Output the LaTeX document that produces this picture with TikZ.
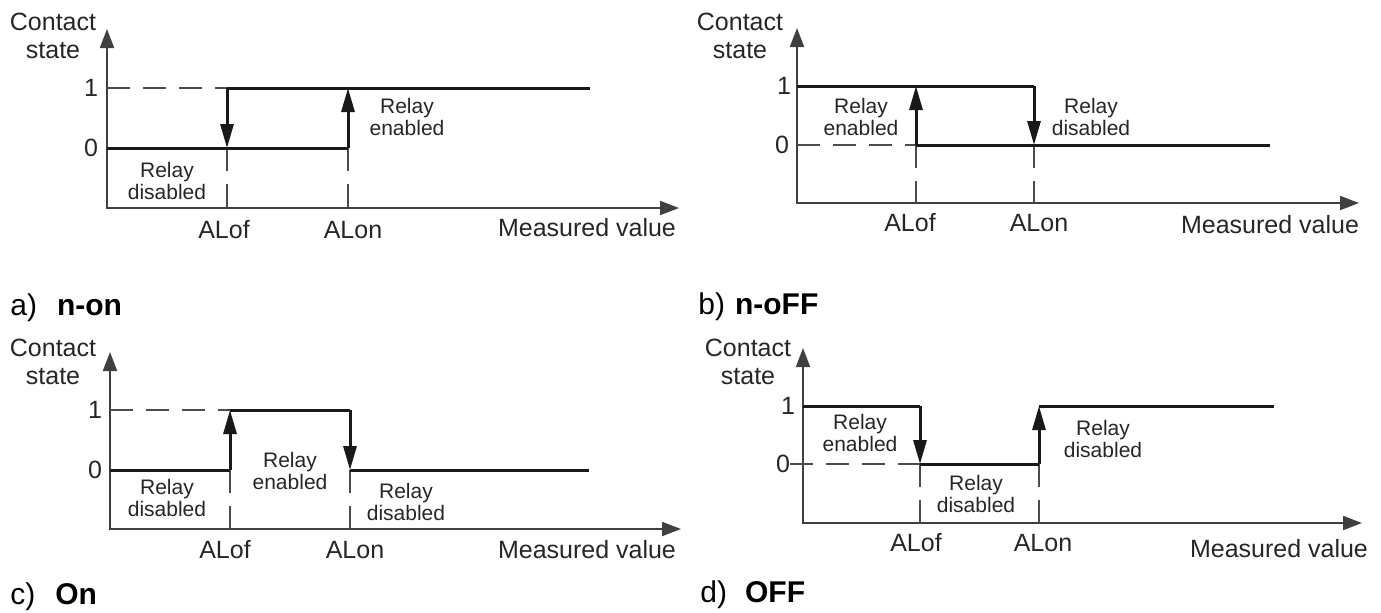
\documentclass[tikz,border=0pt]{standalone}
\usepackage{fontspec}
\setmainfont{Liberation Sans}
\usetikzlibrary{arrows.meta}

\tikzset{
  axisline/.style={line width=1pt, draw=black!75, {Triangle[length=9.5pt,width=7pt]}-{Triangle[length=9.5pt,width=7pt]}},
  level/.style={line width=1.5pt, draw=black!90},
  jump/.style={level, -{Triangle[length=12pt,width=6.5pt]}},
  guide/.style={line width=0.9pt, draw=black!70, dash pattern=on 11.5pt off 6.5pt},
  lbl/.style={font=\fontsize{12.5}{14}\selectfont, text=black!85, inner sep=0pt, align=center},
  relay/.style={font=\fontsize{10.5}{11}\selectfont, text=black!85, inner sep=0pt, align=center},
  caption/.style={font=\fontsize{15}{17}\selectfont, text=black, inner sep=0pt, anchor=west}
}

\begin{document}
\begin{tikzpicture}[x=0.5pt, y=-0.5pt]
\useasboundingbox (0,0) rectangle (1381,612);

% a) n-on
\foreach \n/\x/\y in {o/107/208, y/107/29, x/679/208, 1/107/88, 0/107/148, f1/227/88, f0/227/148, fx/227/208, n1/348/88, n0/348/148, nx/348/208, e/590/88} {
    \coordinate (a\n) at (\x,\y);
}
\draw[axisline] (ay) -- (ao) -- (ax);
\draw[guide] (a1) -- (af1);
\draw[guide] (af0) -- (afx);
\draw[guide] (an0) -- (anx);
\draw[level] (a0) -- (an0);
\draw[level] (af1) -- (ae);
\draw[jump] (af1) -- (af0);
\draw[jump] (an0) -- (an1);

\node[lbl] (aylbl) at (53,36) {Contact\\state};
\node[lbl] (a1lbl) at (91,88) {1};
\node[lbl] (a0lbl) at (91,148) {0};
\node[lbl] (aflbl) at (224,230) {ALof};
\node[lbl] (anlbl) at (353,230) {ALon};
\node[lbl] (axlbl) at (587,228) {Measured value};
\node[relay] (aon) at (407,117) {Relay\\enabled};
\node[relay] (aoff) at (167,181) {Relay\\disabled};
\node[caption] (acap) at (10,308) {a)\hspace{10pt}\textbf{n-on}};

% b) n-oFF
\foreach \n/\x/\y in {o/797/203, y/797/28, x/1359/203, 1/797/86, 0/797/145, f1/916/86, f0/916/145, fx/916/203, n1/1034/86, n0/1034/145, nx/1034/203, e/1270/145} {
    \coordinate (b\n) at (\x,\y);
}
\draw[axisline] (by) -- (bo) -- (bx);
\draw[guide] (b0) -- (bf0);
\draw[guide] (bf0) -- (bfx);
\draw[guide] (bn0) -- (bnx);
\draw[level] (b1) -- (bn1);
\draw[level] (bf0) -- (be);
\draw[jump] (bf0) -- (bf1);
\draw[jump] (bn1) -- (bn0);

\node[lbl] (bylbl) at (740,36) {Contact\\state};
\node[lbl] (b1lbl) at (784,86) {1};
\node[lbl] (b0lbl) at (782,145) {0};
\node[lbl] (bflbl) at (910,223) {ALof};
\node[lbl] (bnlbl) at (1039,223) {ALon};
\node[lbl] (bxlbl) at (1270,225) {Measured value};
\node[relay] (bon) at (861,117) {Relay\\enabled};
\node[relay] (boff) at (1091,117) {Relay\\disabled};
\node[caption] (bcap) at (698,307) {b)\hspace{5pt}\textbf{n-oFF}};

% c) On
\foreach \n/\x/\y in {o/110/529, y/110/352, x/681/529, 1/110/410, 0/110/470, f1/230/410, f0/230/470, fx/230/529, n1/350/410, n0/350/470, nx/350/529, e/589/470} {
    \coordinate (c\n) at (\x,\y);
}
\draw[axisline] (cy) -- (co) -- (cx);
\draw[guide] (c1) -- (cf1);
\draw[guide] (cf0) -- (cfx);
\draw[guide] (cn0) -- (cnx);
\draw[level] (c0) -- (cf0);
\draw[level] (cf1) -- (cn1);
\draw[level] (cn0) -- (ce);
\draw[jump] (cf0) -- (cf1);
\draw[jump] (cn1) -- (cn0);

\node[lbl] (cylbl) at (53,362) {Contact\\state};
\node[lbl] (c1lbl) at (95,410) {1};
\node[lbl] (c0lbl) at (95,470) {0};
\node[lbl] (cflbl) at (225,550) {ALof};
\node[lbl] (cnlbl) at (355,550) {ALon};
\node[lbl] (cxlbl) at (587,550) {Measured value};
\node[relay] (coff) at (167,498) {Relay\\disabled};
\node[relay] (con) at (290,471) {Relay\\enabled};
\node[relay] (coff2) at (406,502) {Relay\\disabled};
\node[caption] (ccap) at (10,597) {c)\hspace{10pt}\textbf{On}};

% d) OFF
\foreach \n/\x/\y in {o/803/523, y/803/348, x/1362/523, 1/803/406, 0/803/464, s/790/464, f1/920/406, f0/920/464, fx/920/523, n1/1039/406, n0/1039/464, nx/1039/523, e/1274/406} {
    \coordinate (d\n) at (\x,\y);
}
\draw[axisline] (dy) -- (do) -- (dx);
\draw[guide] (ds) -- (df0);
\draw[guide] (df0) -- (dfx);
\draw[guide] (dn0) -- (dnx);
\draw[level] (d1) -- (df1);
\draw[level] (df0) -- (dn0);
\draw[level] (dn1) -- (de);
\draw[jump] (df1) -- (df0);
\draw[jump] (dn0) -- (dn1);

\node[lbl] (dylbl) at (748,362) {Contact\\state};
\node[lbl] (d1lbl) at (788,406) {1};
\node[lbl] (d0lbl) at (783,464) {0};
\node[lbl] (dflbl) at (916,543) {ALof};
\node[lbl] (dnlbl) at (1043,543) {ALon};
\node[lbl] (dxlbl) at (1279,549) {Measured value};
\node[relay] (don) at (860,433) {Relay\\enabled};
\node[relay] (doff) at (976,494) {Relay\\disabled};
\node[relay] (doff2) at (1103,439) {Relay\\disabled};
\node[caption] (dcap) at (700,595) {d)\hspace{9pt}\textbf{OFF}};
\end{tikzpicture}
\end{document}
